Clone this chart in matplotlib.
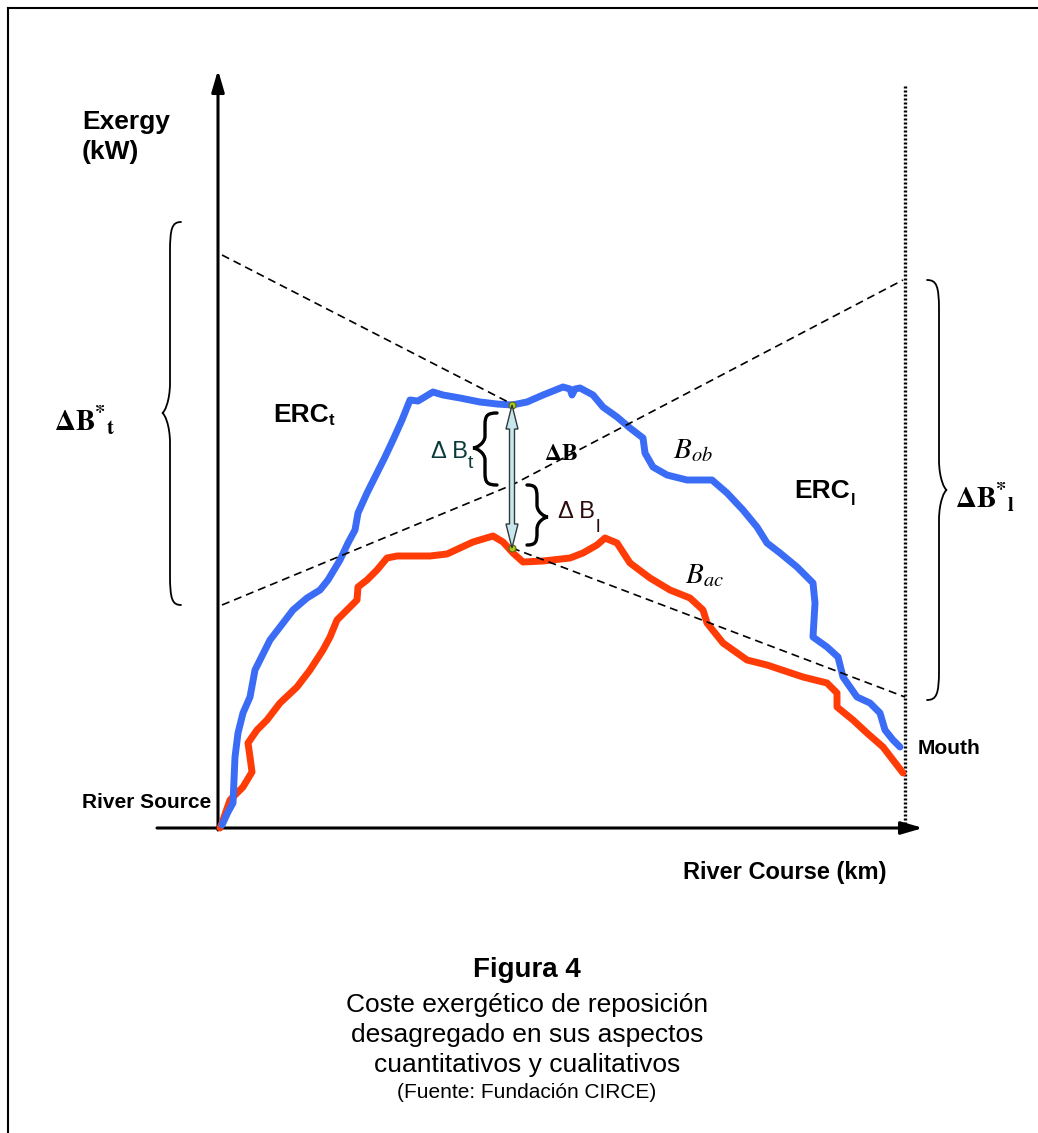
import numpy as np
import matplotlib.pyplot as plt
from matplotlib.path import Path
from matplotlib.patches import PathPatch, Polygon

plt.rcParams['font.family'] = ['Liberation Sans', 'DejaVu Sans']
plt.rcParams['mathtext.fontset'] = 'stix'

# River course (distance from source) and exergy, observed state (B_ob)
km_ob = [4, 10, 15, 17, 20, 25, 32, 37, 42, 52, 62, 75, 89, 102, 110, 122, 130, 137,
         140, 149, 159, 167, 175, 184, 192, 200, 210, 215, 225, 242, 262, 279, 294,
         309, 325, 345, 352, 354, 357, 362, 375, 385, 399, 412, 425, 427, 435, 449,
         469, 494, 509, 525, 539, 549, 562, 579, 595, 597, 595, 609, 620, 625, 639,
         652, 662, 667, 675, 682]
exergy_ob = [3, 16, 25, 71, 95, 115, 131, 158, 168, 188, 201, 218, 230, 238, 248, 268,
             285, 298, 315, 335, 355, 371, 388, 408, 428, 427, 433, 436, 433, 430, 426,
             424, 423, 426, 433, 441, 439, 433, 439, 440, 433, 421, 411, 400, 390, 375,
             361, 353, 348, 348, 335, 318, 301, 285, 275, 261, 245, 225, 191, 181, 171,
             151, 131, 125, 115, 98, 88, 81]

# River course and exergy, reference (pristine) state (B_ac)
km_ac = [2, 4, 12, 25, 34, 32, 30, 39, 49, 62, 79, 92, 105, 112, 119, 129, 139, 140,
         149, 159, 169, 179, 212, 229, 255, 275, 285, 295, 305, 325, 352, 365, 379,
         387, 399, 412, 432, 452, 472, 485, 489, 505, 529, 549, 585, 609, 619, 619,
         635, 649, 665, 675, 685]
exergy_ac = [0, 5, 28, 41, 56, 71, 85, 98, 108, 125, 141, 158, 178, 191, 208, 218, 228,
             241, 248, 258, 270, 272, 272, 274, 286, 292, 286, 275, 266, 267, 270, 275,
             283, 290, 285, 265, 250, 238, 230, 218, 205, 185, 168, 163, 151, 145, 135,
             121, 108, 95, 81, 68, 55]

# Dashed reference lines
km_line_t = [4, 294]
exergy_line_t = [573, 424]
km_line_l = [4, 294, 685]
exergy_line_l = [223, 343, 548]
km_line_ac = [294, 687]
exergy_line_ac = [280, 131]

# Point where the gap is measured
km_gap = 294
exergy_gap_ob = 423
exergy_gap_ac = 280

km_mouth = 687


def brace(ax, x_tip, x_stem, x_end, y_top, y_bot, y_mid, r, lw):
    verts = [(x_end, y_top),
             (x_stem + (x_end - x_stem) * 0.2, y_top), (x_stem, y_top - r * 0.2), (x_stem, y_top - r),
             (x_stem, y_mid + r),
             (x_stem, y_mid + r * 0.4), (x_tip + (x_stem - x_tip) * 0.3, y_mid), (x_tip, y_mid),
             (x_tip + (x_stem - x_tip) * 0.3, y_mid), (x_stem, y_mid - r * 0.4), (x_stem, y_mid - r),
             (x_stem, y_bot + r),
             (x_stem, y_bot + r * 0.2), (x_stem + (x_end - x_stem) * 0.2, y_bot), (x_end, y_bot)]
    codes = ([Path.MOVETO] + [Path.CURVE4] * 3 + [Path.LINETO] + [Path.CURVE4] * 6
             + [Path.LINETO] + [Path.CURVE4] * 3)
    ax.add_patch(PathPatch(Path(verts, codes), fc='none', ec='black', lw=lw,
                           capstyle='round', clip_on=False))


def double_arrow(ax, x, y_lo, y_hi, shaft_w, head_w, head_l):
    pts = [(x, y_hi), (x + head_w / 2, y_hi - head_l), (x + shaft_w / 2, y_hi - head_l),
           (x + shaft_w / 2, y_lo + head_l), (x + head_w / 2, y_lo + head_l), (x, y_lo),
           (x - head_w / 2, y_lo + head_l), (x - shaft_w / 2, y_lo + head_l),
           (x - shaft_w / 2, y_hi - head_l), (x - head_w / 2, y_hi - head_l)]
    ax.add_patch(Polygon(pts, closed=True, fc='#c8e6ee', ec='#2f3a3a', lw=1.0,
                         zorder=6, clip_on=False))


fig = plt.figure(figsize=(10.38, 11.33), dpi=100)
ax = fig.add_axes([218 / 1038, 305 / 1133, 687 / 1038, 756 / 1133])
ax.set_xlim(0, 687)
ax.set_ylim(0, 756)
ax.axis('off')

# page frame (left and top edges)
ax.plot([-210, -210], [-310, 820], color='black', lw=1.5, clip_on=False)
ax.plot([-210, 830], [820, 820], color='black', lw=1.5, clip_on=False)

# axes with arrows
arrow_props = dict(arrowstyle='-|>,head_length=1.3,head_width=0.38',
                   lw=2.2, color='black', shrinkA=0, shrinkB=0)
ax.annotate('', xy=(0, 758), xytext=(0, -2), arrowprops=arrow_props,
            annotation_clip=False)
ax.annotate('', xy=(705, 0), xytext=(-61, 0), arrowprops=arrow_props,
            annotation_clip=False)
ax.plot([km_mouth, km_mouth], [0, 743], color='black', lw=2.4,
        linestyle=(0, (0.6, 0.6)), clip_on=False)

# exergy curves
ax.plot(km_ac, exergy_ac, color='#ff3b06', lw=5, solid_capstyle='round',
        solid_joinstyle='round', clip_on=False, zorder=3)
ax.plot(km_ob, exergy_ob, color='#3b6cf6', lw=5, solid_capstyle='round',
        solid_joinstyle='round', clip_on=False, zorder=3)

# dashed lines
dash = (0, (4.8, 3))
for xs, ys in [(km_line_t, exergy_line_t), (km_line_l, exergy_line_l),
               (km_line_ac, exergy_line_ac)]:
    ax.plot(xs, ys, color='black', lw=1.2, linestyle=dash, zorder=4, clip_on=False)

# gap arrow and end points
ax.plot([km_gap, km_gap], [exergy_gap_ob, exergy_gap_ac], 'o', ms=5,
        mfc='#a8c81e', mec='#5a6a10', mew=0.8, zorder=5)
double_arrow(ax, km_gap, exergy_gap_ac, exergy_gap_ob, 5, 12, 24)

# braces
brace(ax, -56, -48, -37, 606, 223, 415, 30, 1.3)
brace(ax, 729, 721, 709, 548, 128, 338, 30, 1.3)
brace(ax, 255, 267, 279, 415, 343, 380, 12, 2.4)
brace(ax, 330, 319, 309, 343, 283, 311, 12, 2.4)

# labels
ax.text(-136, 718, 'Exergy\n(kW)', fontsize=19, fontweight='bold', ha='left', va='top',
        linespacing=1.3)
ax.text(-7, 25, 'River Source', fontsize=15, fontweight='bold', ha='right', va='center')
ax.text(700, 80, 'Mouth', fontsize=15, fontweight='bold', ha='left', va='center')
ax.text(567, -45, 'River Course (km)', fontsize=17, fontweight='bold', ha='center',
        va='center')

ax.text(111, 406, 'ERC', fontsize=19, fontweight='bold', ha='right', va='baseline')
ax.text(111, 403, 't', fontsize=12, fontweight='bold', ha='left', va='baseline')
ax.text(632, 330, 'ERC', fontsize=19, fontweight='bold', ha='right', va='baseline')
ax.text(633, 323, 'l', fontsize=12, fontweight='bold', ha='left', va='baseline')

ax.text(-133, 397, r'$\mathbf{\Delta B}^{\mathbf{*}}{}_{\mathbf{t}}$', fontsize=21,
        ha='center', va='baseline')
ax.text(767, 320, r'$\mathbf{\Delta B}^{\mathbf{*}}{}_{\mathbf{l}}$', fontsize=21,
        ha='center', va='baseline')
ax.text(343, 368, r'$\mathbf{\Delta B}$', fontsize=17, ha='center', va='baseline')

ax.text(250, 370, '\u0394 B', fontsize=17, color='#0b3a3a', ha='right', va='baseline')
ax.text(250, 360, 't', fontsize=14, color='#0b3a3a', ha='left', va='baseline')
ax.text(377, 310, '\u0394 B', fontsize=17, color='#2a0a0a', ha='right', va='baseline')
ax.text(378, 296, 'l', fontsize=14, color='#2a0a0a', ha='left', va='baseline')

ax.text(455, 370, r'$B_{ob}$', fontsize=21, ha='left', va='baseline')
ax.text(467, 245, r'$B_{ac}$', fontsize=21, ha='left', va='baseline')

# caption
ax.text(309, -142, 'Figura 4', fontsize=20, fontweight='bold', ha='center', va='center')
caption = ['Coste exergético de reposición', 'desagregado en sus aspectos',
           'cuantitativos y cualitativos']
for i, line in enumerate(caption):
    ax.text(309, -177 - 30 * i, line, fontsize=19, ha='center', va='center')
ax.text(309, -264, '(Fuente: Fundación CIRCE)', fontsize=15, ha='center', va='center')

fig.savefig('out.png', dpi=100)
